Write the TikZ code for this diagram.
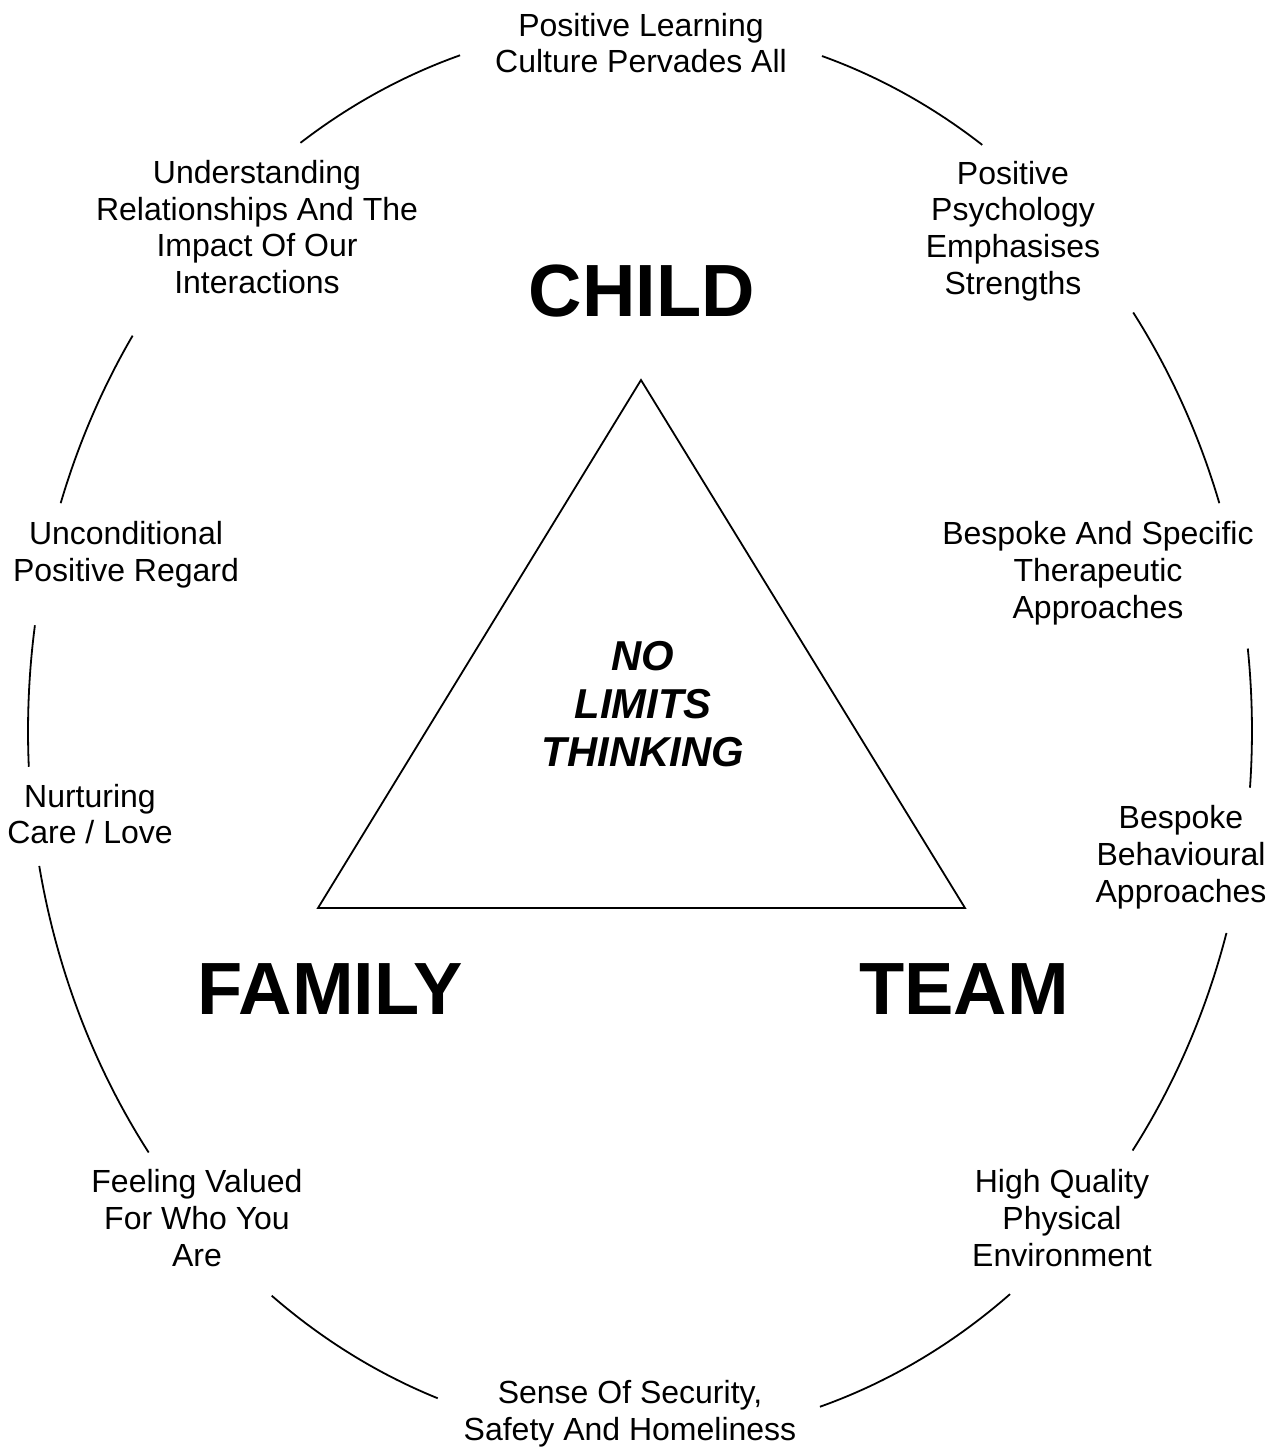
\documentclass[tikz,border=0pt]{standalone}
\usepackage{fontspec}
\setmainfont{Liberation Sans}

\begin{document}
\begin{tikzpicture}[x=0.5pt,y=-0.5pt,
        every node/.style={inner sep=0pt,outer sep=0pt},
        idea/.style={align=center,font=\fontsize{16}{18.4}\selectfont},
        pillar/.style={anchor=base,font=\fontsize{37}{42}\selectfont\bfseries},
        core/.style={align=center,font=\fontsize{20.9}{24}\selectfont\bfseries\itshape},
        rim/.style={line width=0.9pt}]
    \useasboundingbox (0,0) rectangle (1278,1448);

    % ring of ideas
    \node[idea] (culture)   at (641,43)   {Positive Learning\\Culture Pervades All};
    \node[idea] (relations) at (257,227)  {Understanding\\Relationships And The\\Impact Of Our\\Interactions};
    \node[idea] (psych)     at (1013,231) {Positive\\Psychology\\Emphasises\\Strengths};
    \node[idea] (regard)    at (126,555)  {Unconditional\\Positive Regard};
    \node[idea] (therapy)   at (1098,573) {Bespoke And Specific\\Therapeutic\\Approaches};
    \node[idea] (nurture)   at (90,814)   {Nurturing\\Care / Love};
    \node[idea] (behaviour) at (1181,857) {Bespoke\\Behavioural\\Approaches};
    \node[idea] (valued)    at (197,1218) {Feeling Valued\\For Who You\\Are};
    \node[idea] (physical)  at (1062,1218) {High Quality\\Physical\\Environment};
    \node[idea] (security)  at (630,1414) {Sense Of Security,\\Safety And Homeliness};

    % the ring itself, broken at each idea
    \coordinate (hub) at (640,731);
    \foreach \from/\to in {-72.7/-56.0, -36.3/-18.8, -6.7/4.6, 16.6/36.4, 52.8/72.9,
                           109.3/127.0, 143.4/169.0, 177.1/188.6, 198.8/214.0, 236.3/252.9}
        \draw[rim] (hub) ++(\from:612 and 707)
            arc[start angle=\from, end angle=\to, x radius=612, y radius=707];

    % triangle
    \coordinate (apex) at (641,380);
    \coordinate (bl)   at (318,908);
    \coordinate (br)   at (965,908);
    \draw[rim] (apex) -- (bl) -- (br) -- cycle;

    \node[core] (nolimits) at (643,704) {NO\\LIMITS\\THINKING};

    \node[pillar] (child)  at (642,316)  {CHILD};
    \node[pillar] (family) at (330,1014) {FAMILY};
    \node[pillar] (team)   at (964,1014) {TEAM};
\end{tikzpicture}
\end{document}
